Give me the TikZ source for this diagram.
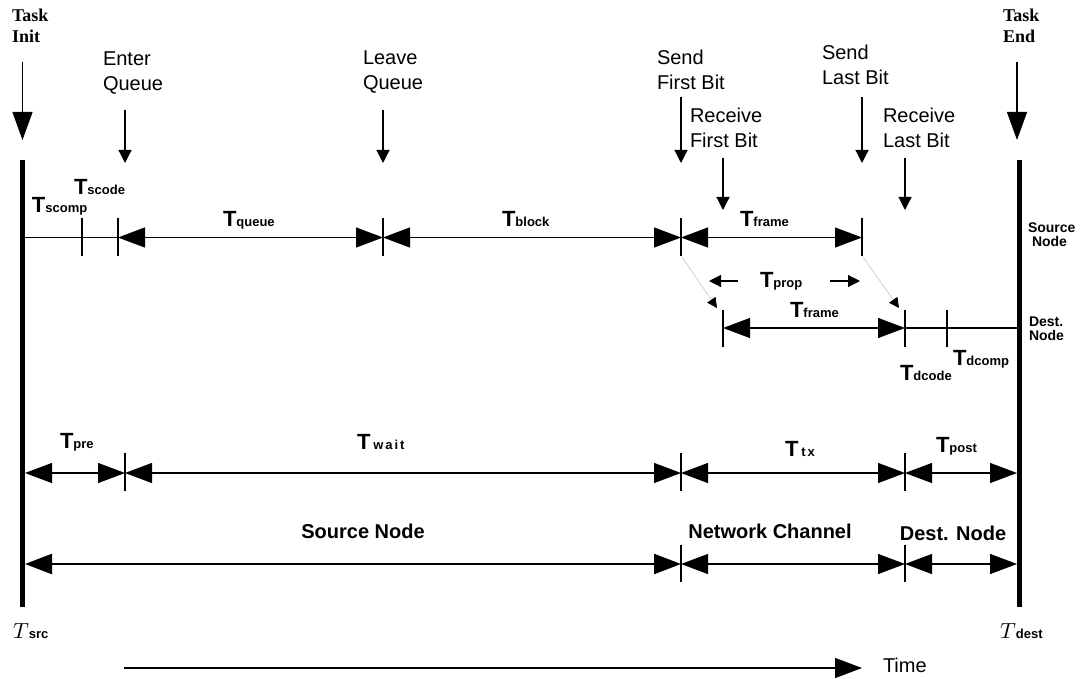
\documentclass[tikz,border=0pt]{standalone}
\usepackage{fontspec}
\setmainfont{Liberation Sans}
\newfontfamily\taskfont{Liberation Serif}
\usetikzlibrary{arrows.meta}
\newcommand\Tlab[1]{{\fontsize{11}{12}\selectfont\bfseries T}{\fontsize{6.5}{7}\selectfont\bfseries #1}}
\newcommand\Tsp[1]{{\fontsize{11}{12}\selectfont\bfseries T\hspace{1.5pt}}{\fontsize{6.5}{7}\selectfont\bfseries\addfontfeature{LetterSpace=15}#1}}
\newcommand\Tmath[1]{{\fontsize{11}{12}\selectfont$T$}{\fontsize{6.5}{7}\selectfont\bfseries #1}}
\begin{document}
\begin{tikzpicture}[x=0.5pt,y=-0.5pt,
  every node/.style={inner sep=0pt, outer sep=0pt},
  ln/.style={line width=0.6pt},
  thickax/.style={line width=2.6pt},
  dimb/.style={ln, {Triangle[length=13.5pt,width=10pt]}-{Triangle[length=13.5pt,width=10pt]}},
  dimr/.style={ln, -{Triangle[length=13.5pt,width=10pt]}},
  markdown/.style={ln, -{Triangle[length=6.5pt,width=6.5pt]}},
  bigdown/.style={ln, -{Triangle[length=14pt,width=10pt]}},
  tinyhead/.style={ln, -{Triangle[length=6pt,width=6pt]}},
  diagln/.style={line width=0.4pt, draw=black!18, -{Triangle[length=5pt,width=5pt,color=black]}},
  evt/.style={font=\fontsize{10}{12.5}\selectfont, align=left, anchor=base west},
  tasklab/.style={font=\taskfont\bfseries\fontsize{9}{10.5}\selectfont, align=left, anchor=base west},
  sidelab/.style={font=\bfseries\fontsize{7}{7}\selectfont, align=left, anchor=base west},
  tl/.style={anchor=base west},
  seglab/.style={font=\bfseries\fontsize{10}{11}\selectfont, anchor=base},
]
\useasboundingbox (0,0) rectangle (1080,679);

% time axes of the two nodes
\coordinate (srcTop) at (22.5,160);
\coordinate (srcBot) at (22.5,607);
\coordinate (dstTop) at (1019.5,160);
\coordinate (dstBot) at (1019.5,607);
\draw[thickax] (srcTop) -- (srcBot);
\draw[thickax] (dstTop) -- (dstBot);

% task init / end (anchor = baseline of last line)
\node[tasklab] (tinit) at (12,43) {Task\\Init};
\node[tasklab] (tend) at (1003,43) {Task\\End};
\coordinate (initA) at (22.5,62); \coordinate (initB) at (22.5,140);
\coordinate (endA) at (1017,62); \coordinate (endB) at (1017,140);
\draw[bigdown] (initA) -- (initB);
\draw[bigdown] (endA) -- (endB);

% events
\node[evt] (enterq) at (103,91) {Enter\\Queue};
\node[evt] (leaveq) at (363,90) {Leave\\Queue};
\node[evt] (sendfb) at (657,90) {Send\\First Bit};
\node[evt] (recvfb) at (690,148) {Receive\\First Bit};
\node[evt] (sendlb) at (822,85) {Send\\Last Bit};
\node[evt] (recvlb) at (883,148) {Receive\\Last Bit};

\coordinate (eqA) at (125,110); \coordinate (eqB) at (125,163);
\coordinate (lqA) at (383,110); \coordinate (lqB) at (383,163);
\coordinate (sfA) at (681,97);  \coordinate (sfB) at (681,163);
\coordinate (rfA) at (723,158); \coordinate (rfB) at (723,210);
\coordinate (slA) at (862,97);  \coordinate (slB) at (862,163);
\coordinate (rlA) at (905,158); \coordinate (rlB) at (905,210);
\draw[markdown] (eqA) -- (eqB);
\draw[markdown] (lqA) -- (lqB);
\draw[markdown] (sfA) -- (sfB);
\draw[markdown] (rfA) -- (rfB);
\draw[markdown] (slA) -- (slB);
\draw[markdown] (rlA) -- (rlB);

% side labels
\node[sidelab] (srcnode) at (1028,247) {Source\\\hspace*{2pt}Node};
\node[sidelab] (dstnode) at (1029,340) {Dest.\\Node};

% row 1: source node
\coordinate (r1s) at (25,237.5);
\coordinate (r1a) at (82,237.5);
\coordinate (r1b) at (118,237.5);
\coordinate (r1c) at (383,237.5);
\coordinate (r1d) at (681,237.5);
\coordinate (r1e) at (862,237.5);
\draw[ln] (r1s) -- (r1b);
\draw[dimb] (r1b) -- (r1c);
\draw[dimb] (r1c) -- (r1d);
\draw[dimb] (r1d) -- (r1e);
\foreach \c in {r1a,r1b,r1c,r1d,r1e} \draw[ln] (\c) ++(0,-19) -- ++(0,37);
\node[tl] (tscomp) at (32,213) {\Tlab{scomp}};
\node[tl] (tscode) at (74,195) {\Tlab{scode}};
\node[tl] (tqueue) at (223,227) {\Tlab{queue}};
\node[tl] (tblock) at (502,227) {\Tlab{block}};
\node[tl] (tframe1) at (740,227) {\Tlab{frame}};

% propagation
\coordinate (dg1a) at (682,257); \coordinate (dg1b) at (717,308);
\coordinate (dg2a) at (863,257); \coordinate (dg2b) at (899,308);
\draw[diagln] (dg1a) -- (dg1b);
\draw[diagln] (dg2a) -- (dg2b);
\coordinate (pLa) at (738,281); \coordinate (pLb) at (709,281);
\coordinate (pRa) at (830,281); \coordinate (pRb) at (860,281);
\draw[tinyhead] (pLa) -- (pLb);
\draw[tinyhead] (pRa) -- (pRb);
\node[tl] (tprop) at (760,287) {\Tlab{prop}};

% row 3: destination node
\coordinate (r3a) at (723,328);
\coordinate (r3b) at (905,328);
\coordinate (r3c) at (947,328);
\coordinate (r3e) at (1017,328);
\draw[dimb] (r3a) -- (r3b);
\draw[ln] (r3b) -- (r3e);
\foreach \c in {r3a,r3b,r3c} \draw[ln] (\c) ++(0,-18) -- ++(0,37);
\node[tl] (tframe2) at (790,317) {\Tlab{frame}};
\node[tl] (tdcode) at (900,380) {\Tlab{dcode}};
\node[tl] (tdcomp) at (953,365) {\Tlab{dcomp}};

% row 4: phases
\coordinate (r4s) at (25,473);
\coordinate (r4a) at (125,473);
\coordinate (r4b) at (681,473);
\coordinate (r4c) at (905,473);
\coordinate (r4e) at (1017,473);
\draw[dimb] (r4s) -- (r4a);
\draw[dimb] (r4a) -- (r4b);
\draw[dimb] (r4b) -- (r4c);
\draw[dimb] (r4c) -- (r4e);
\foreach \c in {r4a,r4b,r4c} \draw[ln] (\c) ++(0,-20) -- ++(0,38);
\node[tl] (tpre) at (60,448) {\Tlab{pre}};
\node[tl] (twait) at (357,449) {\Tsp{wait}};
\node[tl] (ttx) at (785,456) {\Tsp{tx}};
\node[tl] (tpost) at (936,452) {\Tlab{post}};

% row 5: locations
\coordinate (r5s) at (25,564);
\coordinate (r5b) at (681,564);
\coordinate (r5c) at (905,564);
\coordinate (r5e) at (1017,564);
\draw[dimb, line width=1.2pt] (r5s) -- (r5b);
\draw[dimb] (r5b) -- (r5c);
\draw[dimb] (r5c) -- (r5e);
\foreach \c in {r5b,r5c} \draw[ln] (\c) ++(0,-19) -- ++(0,37);
\node[seglab] (lsrc) at (363,538) {Source Node};
\node[seglab] (lnet) at (770,538) {Network Channel};
\node[seglab] (ldst) at (953,540) {Dest. Node};

% bottom
\node[tl] (tsrc) at (13,638) {\Tmath{src}};
\node[tl] (tdest) at (1000,638) {\Tmath{dest}};
\coordinate (timeA) at (124,668); \coordinate (timeB) at (862,668);
\draw[dimr] (timeA) -- (timeB);
\node[tl, font=\fontsize{10}{12}\selectfont] (timelab) at (883,672) {Time};
\end{tikzpicture}
\end{document}
